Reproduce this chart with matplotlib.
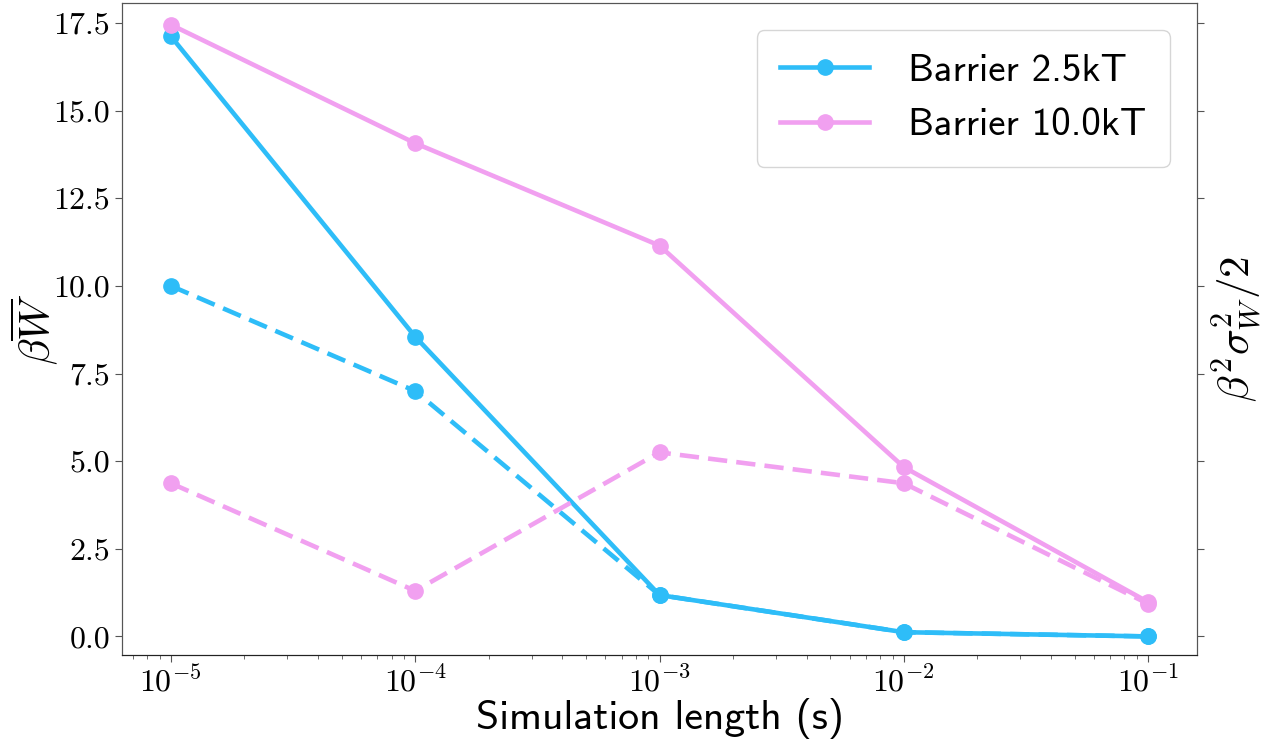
import matplotlib
matplotlib.use("Agg")
import matplotlib.pyplot as plt
from matplotlib.ticker import FuncFormatter, FixedLocator
import numpy as np

sim_length = [1e-5, 1e-4, 1e-3, 1e-2, 1e-1]
mean_w_2p5 = [17.12, 8.55, 1.18, 0.12, 0.0]
mean_w_10 = [17.45, 14.07, 11.15, 4.83, 0.98]
var_w_2p5 = [10.0, 7.0, 1.18, 0.12, 0.0]
var_w_10 = [4.37, 1.30, 5.25, 4.37, 0.93]
labels = ["Barrier 2.5kT", "Barrier 10.0kT"]
yticks = [0.0, 2.5, 5.0, 7.5, 10.0, 12.5, 15.0, 17.5]

blue = "#2EBDF8"
pink = "#F1A0F0"

plt.rcParams["mathtext.fontset"] = "cm"

fig = plt.figure(figsize=(12.66, 7.43), dpi=100)
ax = fig.add_axes([122/1266, 1 - 655/743, (1197-122)/1266, (655-3)/743])
ax2 = ax.twinx()

lw = 3.3
ms = 11
ax.plot(sim_length, mean_w_2p5, "-o", color=blue, lw=lw, ms=ms, label=labels[0])
ax.plot(sim_length, mean_w_10, "-o", color=pink, lw=lw, ms=ms, label=labels[1])
ax2.plot(sim_length, var_w_2p5, "--o", color=blue, lw=lw, ms=ms, dashes=(4.2, 2.0))
ax2.plot(sim_length, var_w_10, "--o", color=pink, lw=lw, ms=ms, dashes=(4.2, 2.0))

ax.set_xscale("log")
ylim = (-0.53, 18.07)
ax.set_ylim(*ylim)
ax2.set_ylim(*ylim)
ax.yaxis.set_major_locator(FixedLocator(yticks))
ax2.yaxis.set_major_locator(FixedLocator(yticks))
ax.yaxis.set_major_formatter(FuncFormatter(lambda v, p: f"{v:.1f}"))
ax2.yaxis.set_major_formatter(FuncFormatter(lambda v, p: ""))
ax.xaxis.set_major_formatter(FuncFormatter(lambda v, p: r"$10^{%d}$" % int(round(np.log10(v)))))

ax.tick_params(axis="y", which="major", labelsize=23, length=5, color="#555555")
ax.tick_params(axis="x", which="major", labelsize=23, length=5, color="#555555")
ax.tick_params(axis="x", which="minor", length=3, color="#555555")
ax2.tick_params(axis="y", length=5, color="#555555")
for lab in ax.get_yticklabels():
    lab.set_fontfamily("cmr10")

for a in (ax, ax2):
    for s in a.spines.values():
        s.set_color("#555555")
ax.spines["bottom"].set_color("#222222")
ax2.spines["bottom"].set_color("#222222")

ax.set_xlabel("Simulation length (s)", fontfamily="cmss10", fontsize=30)
ax.xaxis.set_label_coords(0.5, -0.066)
ax.set_ylabel(r"$\beta\overline{W}$", fontsize=31)
ax.yaxis.set_label_coords(-0.058, 0.5)
ax2.set_ylabel(r"$\beta^2\sigma_W^2/2$", fontsize=31)
ax2.yaxis.set_label_coords(1.012, 0.5)

leg = ax.legend(loc="upper right", prop={"family": "cmss10", "size": 28},
                borderpad=0.6, handlelength=2.3, handletextpad=1.0,
                labelspacing=0.5, framealpha=0.8, borderaxespad=0.7)

fig.savefig("out.png", dpi=100)
